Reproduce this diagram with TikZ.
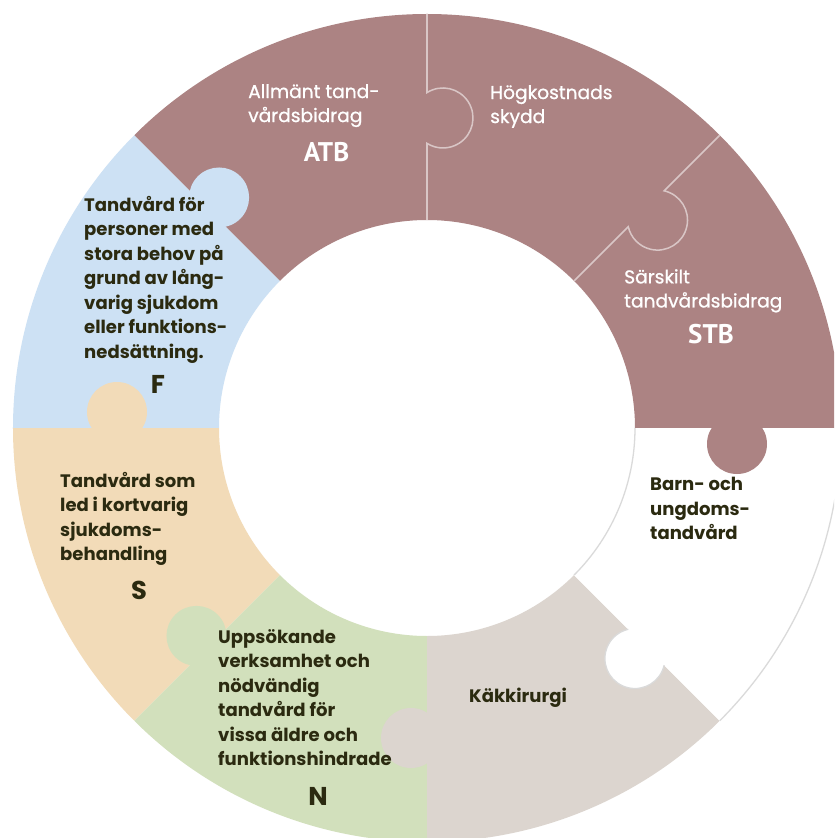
\documentclass[tikz,border=0pt]{standalone}
\usepackage{fontspec}
\setmainfont{Poppins}
\newfontfamily\codefont{PT Sans}
\newfontfamily\lightfont{Poppins}[FakeBold=0.9]
\definecolor{mauve}{HTML}{AC8383}
\definecolor{skyblue}{HTML}{CDE1F4}
\definecolor{peach}{HTML}{F2DBB8}
\definecolor{sage}{HTML}{D2E0BC}
\definecolor{stone}{HTML}{DCD5CF}
\definecolor{ink}{HTML}{2B2A10}
\definecolor{seam}{HTML}{D9C6C6}
\definecolor{edge}{HTML}{DADADA}
\tikzset{
  body/.style={anchor=north west, inner sep=0pt, align=left, text=ink, font=\bfseries\fontsize{15.4}{20.9}\selectfont},
  wbody/.style={anchor=north west, inner sep=0pt, align=left, text=white, font=\lightfont\fontsize{15.9}{20.5}\selectfont},
  code/.style={inner sep=0pt, text=ink, font=\bfseries\fontsize{22}{22}\selectfont},
  wcode/.style={inner sep=0pt, text=white, font=\codefont\bfseries\fontsize{23}{23}\selectfont},
  seamline/.style={draw=seam, line width=1.3pt},
  edgeline/.style={draw=edge, line width=1.1pt}
}
\begin{document}
\begin{tikzpicture}[x=0.03cm,y=0.03cm]
\clip (-427,-410) rectangle (407,428);
\fill[white] (-427,-410) rectangle (407,428);
% ring sectors
\foreach \a/\c in {0/mauve,45/mauve,90/mauve,135/skyblue,180/peach,225/sage,270/stone,315/white}
  \fill[\c] (\a:208) arc[start angle=\a, end angle=\a+45, radius=208]
    -- (\a+45:414) arc[start angle=\a+45, end angle=\a, radius=414] -- cycle;
% puzzle tabs (each piece pushes a tab clockwise into its neighbour)
\foreach \b/\c in {90/mauve,45/mauve,0/mauve,315/white,270/stone,225/sage,180/peach,135/skyblue}
  \fill[\c, rotate=\b] (310,-16) circle[radius=30];
% seams inside the mauve block
\foreach \b in {90,45}
  \draw[seamline, rotate=\b] (414,0) -- (335.4,0)
    arc[start angle=32.2, end angle=-212.2, radius=30] -- (208,0);
% outline of the white piece
\draw[edgeline] (0:414) arc[start angle=0, end angle=-45, radius=414];
\draw[edgeline] (0:208) arc[start angle=0, end angle=-45, radius=208];
\draw[edgeline, rotate=315] (335.4,0) arc[start angle=32.2, end angle=-212.2, radius=30];
% texts
\node[wbody] (atbtext) at (-179,344) {Allmänt tand-\\vårdsbidrag};
\node[wcode] (atb) at (-100.5,275.5) {ATB};
\node[wbody] (hktext) at (63,343) {Högkostnads\\skydd};
\node[wbody] (stbtext) at (197,159) {Särskilt\\tandvårdsbidrag};
\node[wcode] (stb) at (284,94) {STB};
\node[body] (barn) at (223,-49) {Barn- och\\ungdoms-\\tandvård};
\node[body] (kak) at (42,-260) {Käkkirurgi};
\node[body] (ntext) at (-209,-201) {Uppsökande\\verksamhet och\\nödvändig\\tandvård för\\vissa äldre och\\funktionshindrade};
\node[code] (n) at (-109,-368) {N};
\node[body] (stext) at (-367,-44) {Tandvård som\\led i kortvarig\\sjukdoms-\\behandling};
\node[code] (s) at (-288,-162) {S};
\node[body] (ftext) at (-343,232) {Tandvård för\\personer med\\stora behov på\\grund av lång-\\varig sjukdom\\eller funktions-\\nedsättning.};
\node[code] (f) at (-269,44) {F};
\end{tikzpicture}
\end{document}
